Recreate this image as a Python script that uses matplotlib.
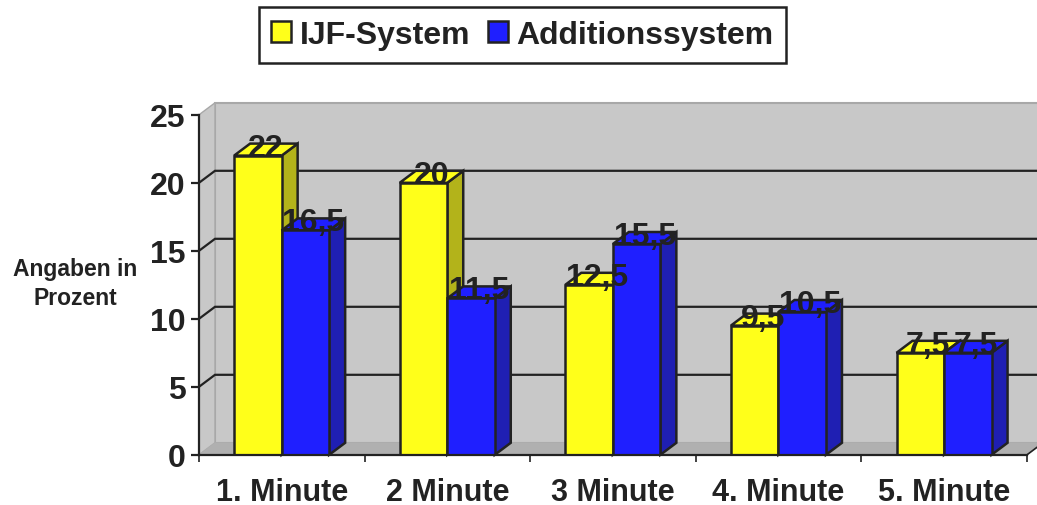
import matplotlib
matplotlib.use('Agg')
import matplotlib.pyplot as plt
from matplotlib.patches import Polygon, Patch

plt.rcParams['font.family'] = ['Liberation Sans', 'DejaVu Sans']
plt.rcParams['font.weight'] = 'bold'

categories = ['1. Minute', '2 Minute', '3 Minute', '4. Minute', '5. Minute']
ijf = [22, 20, 12.5, 9.5, 7.5]
addition = [16.5, 11.5, 15.5, 10.5, 7.5]
yticks = [0, 5, 10, 15, 20, 25]

DARK = '#222222'
WALL = '#c8c8c8'
WALL_EDGE = '#a8a8a8'
FLOOR = '#b0b0b0'
W, H = 1037, 506

fig = plt.figure(figsize=(W / 100, H / 100), dpi=100)
ax = fig.add_axes([199 / W, (H - 455.8) / H, 828 / W, 340 / H])
ax.set_xlim(0, 5)
ax.set_ylim(0, 25)
ax.patch.set_visible(False)

# 3d offset of the box in data units (16 px right, 12 px up)
dx = 16 / (828 / 5)
dy = 12 / (340 / 25)
bw = 0.287
gap = 0.212


def poly(pts, fc, ec=DARK, lw=1.8, z=3):
    ax.add_patch(Polygon(pts, closed=True, facecolor=fc, edgecolor=ec, lw=lw,
                         joinstyle='miter', clip_on=False, zorder=z))


# walls and floor
poly([(dx, dy), (5 + dx, dy), (5 + dx, 25 + dy), (dx, 25 + dy)], WALL, WALL_EDGE, 1.5, 0)
poly([(0, 0), (dx, dy), (dx, 25 + dy), (0, 25)], WALL, WALL_EDGE, 1.0, 0)
poly([(0, 0), (5, 0), (5 + dx, dy), (dx, dy)], FLOOR, FLOOR, 0.5, 0)

for v in yticks[1:-1]:
    ax.plot([0, dx, 5 + dx], [v, v + dy, v + dy], color=DARK, lw=1.6,
            clip_on=False, zorder=1, solid_joinstyle='miter')
ax.plot([5, 5 + dx], [0, dy], color=DARK, lw=1.2, clip_on=False, zorder=1)


def draw_series(x0, values, front, side, z):
    for i, v in enumerate(values):
        x = i + x0
        poly([(x + bw, 0), (x + bw + dx, dy), (x + bw + dx, v + dy), (x + bw, v)], side, z=z)
        poly([(x, v), (x + dx, v + dy), (x + bw + dx, v + dy), (x + bw, v)], front, z=z)
        ax.bar(x, v, width=bw, align='edge', color=front, edgecolor=DARK, lw=1.8, zorder=z)


draw_series(gap, ijf, '#ffff1a', '#b3b31a', 3)
draw_series(gap + bw, addition, '#1f1fff', '#1f1fb3', 4)

# data labels sit on the bar tops with the decimal comma
for offset, values in ((gap, ijf), (gap + bw, addition)):
    for i, v in enumerate(values):
        ax.text(i + offset + (bw + dx) / 2, v, f'{v:g}'.replace('.', ','), fontsize=23,
                color=DARK, ha='center', va='baseline', zorder=6, clip_on=False)

for s in ('top', 'right'):
    ax.spines[s].set_visible(False)
for s in ('left', 'bottom'):
    ax.spines[s].set_color(DARK)
    ax.spines[s].set_linewidth(1.6)
    ax.spines[s].set_zorder(5)

ax.set_yticks(yticks)
ax.set_xticks(range(6))
ax.set_xticklabels([])
ax.set_xticks([i + 0.5 for i in range(5)], labels=categories, minor=True)
ax.tick_params(axis='y', length=5.5, width=1.6, color=DARK, labelsize=23, labelcolor=DARK, pad=4)
ax.tick_params(axis='x', which='major', direction='out', length=5, width=1.2, color=DARK)
ax.tick_params(axis='x', which='minor', length=0, labelsize=22, labelcolor=DARK, pad=16)

fig.text(75 / W, 1 - 284 / H, 'Angaben in\nProzent', fontsize=16.5, color=DARK,
         ha='center', va='center', linespacing=1.35)

handles = [Patch(facecolor='#ffff1a', edgecolor=DARK, lw=1.8, label='IJF-System'),
           Patch(facecolor='#1f1fff', edgecolor=DARK, lw=1.8, label='Additionssystem')]
leg = fig.legend(handles=handles, ncol=2, loc='center', bbox_to_anchor=(522.5 / W, 1 - 36 / H),
                 fontsize=23, frameon=True, fancybox=False, edgecolor=DARK, framealpha=1,
                 handlelength=0.62, handleheight=0.62, handletextpad=0.27, columnspacing=0.55,
                 borderpad=0.4, borderaxespad=0, labelcolor=DARK)
leg.get_frame().set_linewidth(1.8)

fig.savefig('out.png', dpi=100)
